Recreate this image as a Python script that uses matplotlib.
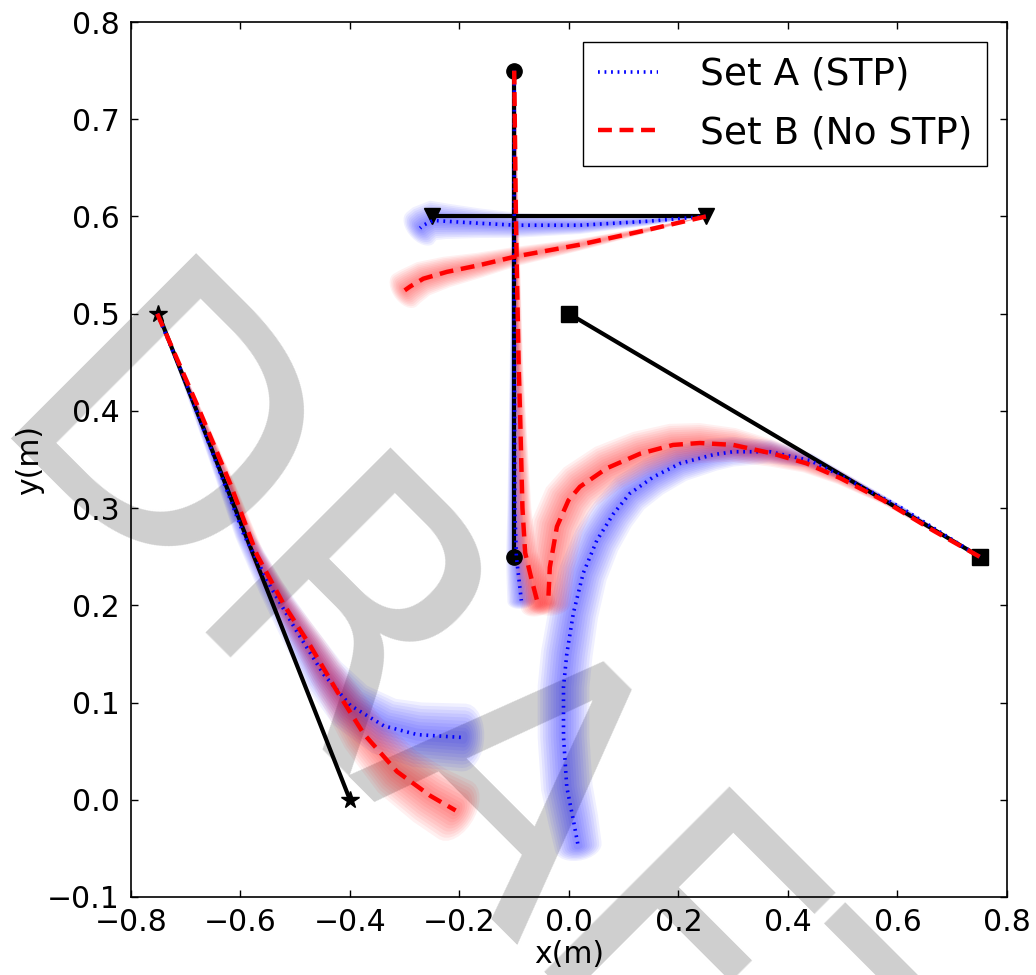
"""Reach trajectories, Set A (STP) vs Set B (No STP), with DRAFT watermark."""

import matplotlib

matplotlib.use("Agg")
import matplotlib.pyplot as plt
import numpy as np

plt.rcParams["font.family"] = ["DejaVu Sans"]
plt.rcParams["font.size"] = 21.5
plt.rcParams["lines.scale_dashes"] = False

# target segments (start, end) and their end markers
target_starts = [(-0.75, 0.50), (-0.10, 0.75), (0.25, 0.60), (0.75, 0.25)]
target_ends = [(-0.40, 0.00), (-0.10, 0.25), (-0.25, 0.60), (0.00, 0.50)]
target_markers = ["*", "o", "v", "s"]

# Set A (STP) mean paths and spread (m)
a_x = [
    [-0.752, -0.704, -0.643, -0.594, -0.545, -0.497, -0.448, -0.399, -0.338, -0.277, -0.192],
    [-0.100, -0.100, -0.099, -0.096, -0.091, -0.087],
    [0.250, 0.142, 0.020, -0.096, -0.163, -0.223, -0.248, -0.266, -0.272],
    [0.750, 0.605, 0.495, 0.440, 0.367, 0.300, 0.264, 0.203, 0.154, 0.111,
     0.081, 0.051, 0.026, 0.008, -0.004, -0.010, -0.010, -0.004, 0.008, 0.017],
]
a_y = [
    [0.500, 0.435, 0.345, 0.273, 0.219, 0.173, 0.129, 0.097, 0.076, 0.067, 0.064],
    [0.750, 0.500, 0.300, 0.250, 0.225, 0.205],
    [0.600, 0.595, 0.591, 0.591, 0.593, 0.595, 0.596, 0.591, 0.588],
    [0.250, 0.301, 0.334, 0.349, 0.358, 0.358, 0.355, 0.346, 0.332, 0.315,
     0.294, 0.267, 0.233, 0.192, 0.150, 0.116, 0.065, 0.013, -0.021, -0.048],
]
a_spread = [
    [0.000, 0.004, 0.008, 0.012, 0.017, 0.023, 0.029, 0.035, 0.040, 0.044, 0.046],
    [0.003, 0.005, 0.010, 0.014, 0.017, 0.019],
    [0.000, 0.006, 0.012, 0.017, 0.020, 0.024, 0.027, 0.028, 0.028],
    [0.000, 0.003, 0.006, 0.010, 0.016, 0.020, 0.022, 0.025, 0.027, 0.029,
     0.030, 0.032, 0.033, 0.034, 0.035, 0.035, 0.035, 0.035, 0.034, 0.032],
]

# Set B (No STP) mean paths and spread (m)
b_x = [
    [-0.752, -0.679, -0.618, -0.570, -0.521, -0.472, -0.424, -0.375, -0.314, -0.253, -0.207],
    [-0.100, -0.097, -0.092, -0.089, -0.085, -0.080, -0.068, -0.056],
    [0.250, 0.142, 0.020, -0.096, -0.163, -0.223, -0.266, -0.290, -0.300],
    [0.750, 0.665, 0.574, 0.495, 0.434, 0.373, 0.300, 0.239, 0.190, 0.130,
     0.069, 0.020, -0.001, -0.022, -0.035, -0.038],
]
b_y = [
    [0.500, 0.406, 0.324, 0.252, 0.201, 0.158, 0.112, 0.068, 0.029, 0.004, -0.011],
    [0.750, 0.600, 0.450, 0.390, 0.300, 0.254, 0.226, 0.200],
    [0.600, 0.586, 0.571, 0.559, 0.550, 0.543, 0.536, 0.528, 0.524],
    [0.250, 0.277, 0.308, 0.331, 0.346, 0.356, 0.365, 0.367, 0.365, 0.356,
     0.341, 0.322, 0.308, 0.281, 0.239, 0.203],
]
b_spread = [
    [0.000, 0.003, 0.006, 0.010, 0.015, 0.020, 0.026, 0.032, 0.038, 0.042, 0.045],
    [0.002, 0.004, 0.006, 0.008, 0.012, 0.016, 0.020, 0.024],
    [0.000, 0.004, 0.008, 0.013, 0.017, 0.021, 0.024, 0.026, 0.027],
    [0.000, 0.002, 0.005, 0.009, 0.013, 0.018, 0.023, 0.027, 0.029, 0.031,
     0.033, 0.034, 0.035, 0.035, 0.033, 0.030],
]

set_labels = ["Set A (STP)", "Set B (No STP)"]


def draw_band(ax, x, y, spread, color):
    """Soft band around a path: nested translucent polygons with rounded ends."""
    to_px = ax.transData
    scale = to_px.transform((1, 0))[0] - to_px.transform((0, 0))[0]
    pts = to_px.transform(np.column_stack([x, y]))
    d = np.gradient(pts, axis=0)
    t = d / np.linalg.norm(d, axis=1, keepdims=True)
    n = np.column_stack([-t[:, 1], t[:, 0]])
    w = np.asarray(spread)[:, None] * scale
    th = np.linspace(0, np.pi, 15)[:, None]
    for f in np.linspace(1.35, 0.25, 9):
        off = n * w * f
        r0, r1 = w[0, 0] * f, w[-1, 0] * f
        end_cap = pts[-1] + r1 * (n[-1] * np.cos(th) + 0.6 * t[-1] * np.sin(th))
        start_cap = pts[0] + r0 * (-n[0] * np.cos(th) - 0.6 * t[0] * np.sin(th))
        poly = np.vstack([pts + off, end_cap, (pts - off)[::-1], start_cap])
        px, py = to_px.inverted().transform(poly).T
        ax.fill(px, py, color=color, alpha=0.06, lw=0, zorder=1)


fig = plt.figure(figsize=(10.36, 9.75), dpi=100)
ax = fig.add_axes([0.1264, 0.0800, 0.8456, 0.8974])
ax.set_facecolor("none")
ax.set_xlim(-0.8, 0.8)
ax.set_ylim(-0.1, 0.8)

fig.text(-0.0241, 0.551, "DRAFT", fontsize=258, color="#cfcfcf", rotation=-45,
         rotation_mode="anchor", ha="left", va="baseline", zorder=-5)

for i in range(4):
    draw_band(ax, a_x[i], a_y[i], a_spread[i], "blue")
    draw_band(ax, b_x[i], b_y[i], b_spread[i], "red")

for (x0, y0), (x1, y1), m in zip(target_starts, target_ends, target_markers):
    ms = 13 if m == "*" else 11
    ax.plot([x0, x1], [y0, y1], color="black", lw=3, marker=m, ms=ms, zorder=3)

for i in range(4):
    ax.plot(a_x[i], a_y[i], color="blue", lw=2.6, dashes=(1.3, 3.4),
            label=set_labels[0] if i == 0 else None, zorder=4)
    ax.plot(b_x[i], b_y[i], color="red", lw=3.2, dashes=(10, 5.5),
            label=set_labels[1] if i == 0 else None, zorder=5)

ax.tick_params(direction="in", length=5, width=1, top=True, right=True, pad=8)
ax.set_xticks(np.arange(-0.8, 0.81, 0.2))
ax.set_yticks(np.arange(-0.1, 0.81, 0.1))
for s in ax.spines.values():
    s.set_linewidth(1.2)
ax.set_xlabel("x(m)", labelpad=2)
ax.set_ylabel("y(m)", labelpad=2)

leg = ax.legend(loc="upper right", borderaxespad=0.53, fancybox=False, edgecolor="black",
                framealpha=1, fontsize=27, borderpad=0.4, labelspacing=0.6,
                handlelength=1.6, handletextpad=1.1)
leg.get_frame().set_linewidth(1.0)

fig.savefig("out.png", dpi=100)
